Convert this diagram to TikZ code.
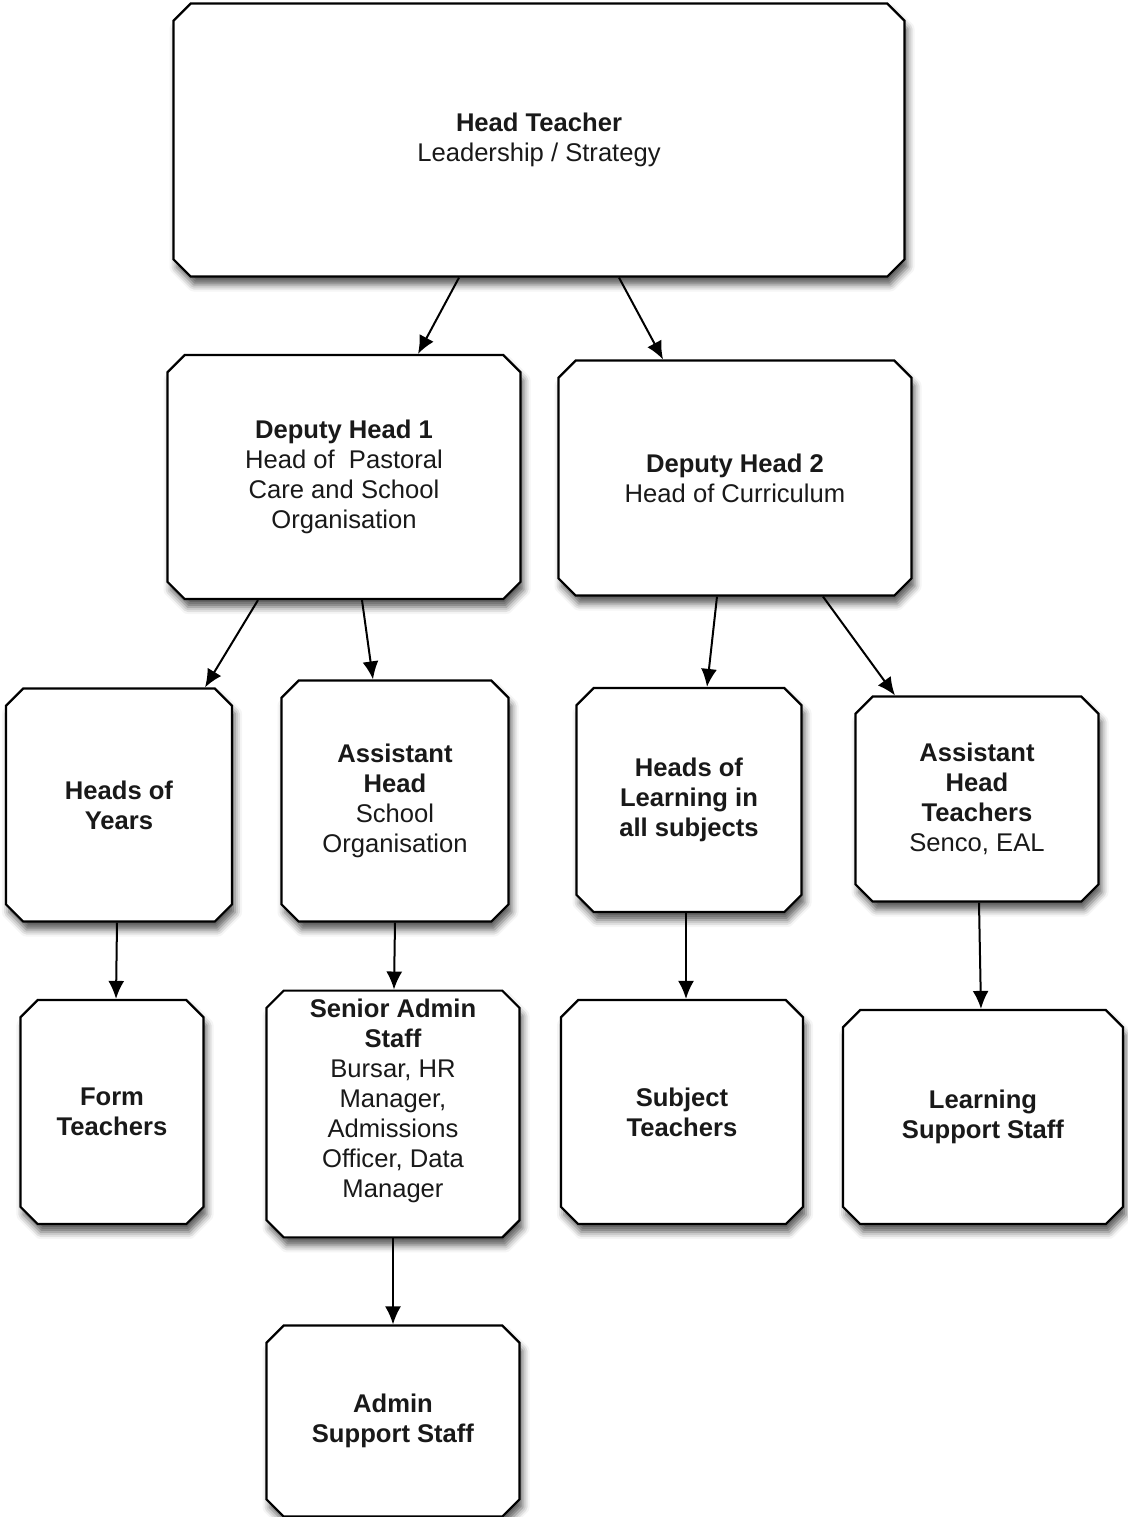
\documentclass[tikz,border=0pt]{standalone}
\usepackage{fontspec}
\setmainfont{Liberation Sans}
\usetikzlibrary{shapes.misc,arrows.meta,shadows.blur}
\begin{document}
\begin{tikzpicture}[x=0.5pt,y=-0.5pt,
				orgbox/.style={chamfered rectangle,chamfered rectangle xsep=4.3pt,chamfered rectangle ysep=4.3pt,
					draw=black,line width=1.1pt,fill=white,inner sep=0pt,align=center,
					font=\fontsize{12.8}{15}\selectfont,text=black!90,
					blur shadow={shadow xshift=1.5pt,shadow yshift=-4pt,shadow blur radius=3.5pt,shadow opacity=65}},
				link/.style={-{Latex[length=9pt,width=8pt]},line width=1pt,black},
				thick]
				\useasboundingbox (0,0) rectangle (1128,1517);
				\node[orgbox,minimum width=365.5pt,minimum height=136.5pt] (head) at (539,140)
					{\textbf{Head Teacher}\\Leadership / Strategy};
				\node[orgbox,minimum width=176.5pt,minimum height=122pt] (dep1) at (344,477)
					{\textbf{Deputy Head 1}\\Head of~ Pastoral\\Care and School\\Organisation};
				\node[orgbox,minimum width=176.5pt,minimum height=117.5pt] (dep2) at (735,478)
					{\textbf{Deputy Head 2}\\Head of Curriculum};
				\node[orgbox,minimum width=113pt,minimum height=116.5pt] (years) at (119,805)
					{\textbf{Heads of}\\\textbf{Years}};
				\node[orgbox,minimum width=113.5pt,minimum height=120.5pt] (asst) at (395,801)
					{\textbf{Assistant}\\\textbf{Head}\\School\\Organisation};
				\node[orgbox,minimum width=112.5pt,minimum height=112pt] (learn) at (689,800)
					{\textbf{Heads of}\\\textbf{Learning in}\\\textbf{all subjects}};
				\node[orgbox,minimum width=121.5pt,minimum height=102.5pt] (assttea) at (977,799)
					{\textbf{Assistant}\\\textbf{Head}\\\textbf{Teachers}\\Senco, EAL};
				\node[orgbox,minimum width=91.5pt,minimum height=112pt] (form) at (112,1112)
					{\textbf{Form}\\\textbf{Teachers}};
				\node[orgbox,minimum width=126.5pt,minimum height=120.5pt,text depth=15.5pt] (senior) at (393,1114)
					{\textbf{Senior Admin}\\\textbf{Staff}\\Bursar, HR\\Manager,\\Admissions\\Officer, Data\\Manager};
				\node[orgbox,minimum width=121pt,minimum height=112pt] (subject) at (682,1112)
					{\textbf{Subject}\\\textbf{Teachers}};
				\node[orgbox,minimum width=140pt,minimum height=107pt] (support) at (983,1117)
					{\textbf{Learning}\\\textbf{Support Staff}};
				\node[orgbox,minimum width=126.5pt,minimum height=95.5pt] (admin) at (393,1421)
					{\textbf{Admin}\\\textbf{Support Staff}};
				\draw[link] ([xshift=-40pt]head.south) -- ([xshift=37pt]dep1.north);
				\draw[link] ([xshift=40pt]head.south) -- ([xshift=-36pt]dep2.north);
				\draw[link] ([xshift=-43pt]dep1.south) -- ([xshift=43pt]years.north);
				\draw[link] ([xshift=9pt]dep1.south) -- ([xshift=-11pt]asst.north);
				\draw[link] ([xshift=-9pt]dep2.south) -- ([xshift=9pt]learn.north);
				\draw[link] ([xshift=44pt]dep2.south) -- ([xshift=-41pt]assttea.north);
				\draw[link] ([xshift=-1pt]years.south) -- ([xshift=2pt]form.north);
				\draw[link] (asst.south) -- ([xshift=0.5pt]senior.north);
				\draw[link] ([xshift=-1.5pt]learn.south) -- ([xshift=2pt]subject.north);
				\draw[link] ([xshift=1pt]assttea.south) -- ([xshift=-1pt]support.north);
				\draw[link] (senior.south) -- (admin.north);
			\end{tikzpicture}
\end{document}
